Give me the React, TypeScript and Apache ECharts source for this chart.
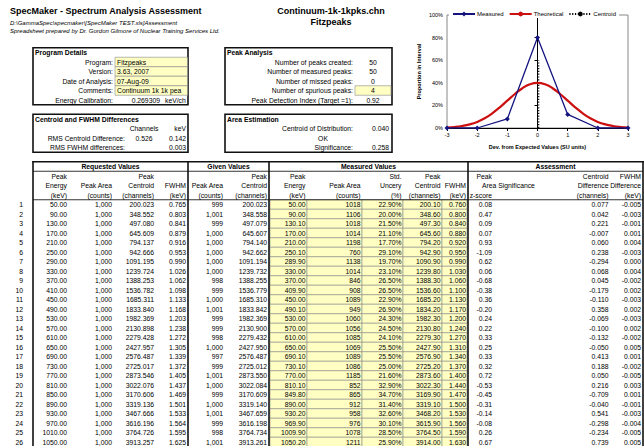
import React, { useEffect, useRef } from "react";
import * as echarts from "echarts";

const FONT = "'Liberation Sans', Arial, sans-serif";

// ---------- chart data ----------
const measuredX = [-3, -2, -1, 0, 1, 2, 3];
const measuredY = [0, 0, 0.08, 0.8, 0.12, 0, 0];
const theoreticalX = [-3, -2.75, -2.5, -2.25, -2, -1.75, -1.5, -1.25, -1, -0.75, -0.5, -0.25, 0, 0.25, 0.5, 0.75, 1, 1.25, 1.5, 1.75, 2, 2.25, 2.5, 2.75, 3];
const theoreticalY = [0.004, 0.009, 0.018, 0.032, 0.054, 0.086, 0.13, 0.183, 0.242, 0.301, 0.352, 0.387, 0.399, 0.387, 0.352, 0.301, 0.242, 0.183, 0.13, 0.086, 0.054, 0.032, 0.018, 0.009, 0.004];
const centroidX = [0.04, 0.04];
const centroidY = [0, 0.6];
const legendNames = ["Measured", "Theoretical", "Centroid"];

// ---------- header texts ----------
const titleText = "SpecMaker - Spectrum Analysis Assessment";
const pathText = "D:\\GammaSpec\\specmaker\\[SpecMaker TEST.xls]Assessment";
const preparedText = "Spreadsheet prepared by Dr. Gordon Gilmore of Nuclear Training Services Ltd.";
const fileText = "Continuum-1k-1kpks.chn";
const programText = "Fitzpeaks";

const programLabels = ["Program:", "Version:", "Date of Analysis:", "Comments:", "Energy Calibration:"];
const programValues = ["Fitzpeaks", "3.63, 2007", "07-Aug-09", "Continuum 1k 1k pea"];
const energyCalibration = "0.269309";
const energyCalibrationUnit = "keV/ch";

const peakLabels = ["Number of peaks created:", "Number of measured peaks:", "Number of missed peaks:", "Number of spurious peaks:", "Peak Detection Index (Target =1):"];
const peakValues = ["50", "50", "0", "4", "0.92"];

const diffLabels = ["RMS Centroid Difference:", "RMS FWHM differences:"];
const diffChannels = ["0.526", ""];
const diffKeV = ["0.142", "0.003"];

const areaLabels = ["Centroid of Distribution:", "", "Significance:"];
const areaValues = ["0.040", "OK", "0.258"];

// ---------- table data ----------
const rowNumbers = [1, 2, 3, 4, 5, 6, 7, 8, 9, 10, 11, 12, 13, 14, 15, 16, 17, 18, 19, 20, 21, 22, 23, 24, 25, 26];
const reqEnergy = [50, 90, 130, 170, 210, 250, 290, 330, 370, 410, 450, 490, 530, 570, 610, 650, 690, 730, 770, 810, 850, 890, 930, 970, 1010, 1050];
const reqArea = [1000, 1000, 1000, 1000, 1000, 1000, 1000, 1000, 1000, 1000, 1000, 1000, 1000, 1000, 1000, 1000, 1000, 1000, 1000, 1000, 1000, 1000, 1000, 1000, 1000, 1000];
const reqCentroid = [200.023, 348.552, 497.08, 645.609, 794.137, 942.666, 1091.195, 1239.724, 1388.253, 1536.782, 1685.311, 1833.84, 1982.369, 2130.898, 2279.428, 2427.957, 2576.487, 2725.017, 2873.546, 3022.076, 3170.606, 3319.136, 3467.666, 3616.196, 3764.726, 3913.257];
const reqFwhm = [0.765, 0.803, 0.841, 0.879, 0.916, 0.953, 0.99, 1.026, 1.062, 1.098, 1.133, 1.168, 1.203, 1.238, 1.272, 1.305, 1.339, 1.372, 1.405, 1.437, 1.469, 1.501, 1.533, 1.564, 1.595, 1.625];
const givenArea = [999, 1001, 999, 1000, 1000, 1000, 1000, 1000, 998, 999, 1000, 1001, 999, 999, 998, 1000, 997, 999, 1001, 1000, 999, 1000, 1001, 999, 998, 1001];
const givenCentroid = [200.023, 348.558, 497.079, 645.607, 794.14, 942.662, 1091.194, 1239.732, 1388.255, 1536.779, 1685.31, 1833.842, 1982.369, 2130.9, 2279.432, 2427.95, 2576.487, 2725.012, 2873.55, 3022.084, 3170.609, 3319.14, 3467.659, 3616.198, 3764.734, 3913.261];
const measEnergy = [50.0, 90.0, 130.1, 170.0, 210.0, 250.1, 289.9, 330.0, 370.0, 409.9, 450.0, 490.1, 530.0, 570.0, 610.0, 650.0, 690.1, 730.1, 770.0, 810.1, 849.8, 890.0, 930.2, 969.9, 1009.9, 1050.2];
const measArea = [1018, 1106, 1018, 1014, 1198, 760, 1138, 1014, 846, 908, 1089, 949, 1060, 1056, 1085, 1069, 1089, 1086, 1185, 852, 865, 912, 958, 976, 1078, 1211];
const measUncert = [22.9, 20.0, 21.5, 21.1, 17.7, 29.1, 19.7, 23.1, 26.5, 26.5, 22.9, 26.9, 24.3, 24.5, 24.1, 25.5, 25.5, 25.0, 21.6, 32.9, 34.7, 31.4, 32.6, 30.1, 28.5, 25.9];
const measCentroid = [200.1, 348.6, 497.3, 645.6, 794.2, 942.9, 1090.9, 1239.8, 1388.3, 1536.6, 1685.2, 1834.2, 1982.3, 2130.8, 2279.3, 2427.9, 2576.9, 2725.2, 2873.6, 3022.3, 3169.9, 3319.1, 3468.2, 3615.9, 3764.5, 3914.0];
const measFwhm = [0.76, 0.8, 0.84, 0.88, 0.92, 0.95, 0.99, 1.03, 1.06, 1.1, 1.13, 1.17, 1.2, 1.24, 1.27, 1.31, 1.34, 1.37, 1.4, 1.44, 1.47, 1.5, 1.53, 1.56, 1.59, 1.63];
const zScore = [0.08, 0.47, 0.09, 0.07, 0.93, -1.09, 0.62, 0.06, -0.68, -0.38, 0.36, -0.2, 0.24, 0.22, 0.33, 0.25, 0.33, 0.32, 0.72, -0.53, -0.45, -0.31, -0.14, -0.08, 0.26, 0.67];
const centroidDiff = [0.077, 0.042, 0.221, -0.007, 0.06, 0.238, -0.294, 0.068, 0.045, -0.179, -0.11, 0.358, -0.069, -0.1, -0.132, -0.05, 0.413, 0.188, 0.05, 0.216, -0.709, -0.04, 0.541, -0.298, -0.234, 0.739];
const fwhmDiff = [-0.005, -0.003, -0.001, 0.001, 0.004, -0.003, 0.0, 0.004, -0.002, 0.002, -0.003, 0.002, -0.003, 0.002, -0.002, 0.005, 0.001, -0.002, -0.005, 0.003, 0.001, -0.001, -0.003, -0.004, -0.005, 0.005];

const groupTitles = ["Requested Values", "Given Values", "Measured Values", "Assessment"];

// ---------- layout ----------
const FS = 6.8;
const rowY = (n: number) => 5 + 9.5 * n;
const dataY = (i: number) => 204.5 + 9.5 * i;
const YELLOW = "#ffffc4";
const CELL_STROKE = "#8a8a8a";

type TOpt = { bold?: boolean; italic?: boolean; size?: number; align?: string; color?: string };
function txt(text: string, x: number, y: number, o: TOpt = {}) {
  const font = `${o.italic ? "italic " : ""}${o.bold ? "bold " : ""}${o.size || FS}px ${FONT}`;
  const align = o.align || "left";
  return {
    type: "text",
    x,
    y,
    z: 30,
    silent: true,
    style: {
      text,
      font,
      fill: o.color || "#000",
      textAlign: align,
      align,
      textVerticalAlign: "middle",
      verticalAlign: "middle",
    },
  };
}
function rect(x: number, y: number, w: number, h: number, fill: string, stroke?: string, lw = 0.6, z = 10) {
  return {
    type: "rect",
    z,
    silent: true,
    shape: { x, y, width: w, height: h },
    style: { fill, stroke: stroke || null, lineWidth: stroke ? lw : 0 },
  };
}
function line(x1: number, y1: number, x2: number, y2: number, lw = 1, color = "#000", z = 20) {
  return {
    type: "line",
    z,
    silent: true,
    shape: { x1, y1, x2, y2 },
    style: { stroke: color, lineWidth: lw },
  };
}

const comma = (n: number) => n.toLocaleString("en-US");

function buildGraphics() {
  const g: any[] = [];
  g.push(txt(titleText, 10, 11, { bold: true, size: 9 }));
  g.push(txt(pathText, 10, 22.5, { italic: true, size: 6 }));
  g.push(txt(preparedText, 10, 30.5, { italic: true, size: 6 }));
  g.push(txt(fileText, 331, 11, { bold: true, size: 9, align: "center" }));
  g.push(txt(programText, 331, 21.5, { bold: true, size: 9, align: "center" }));

  // Program Details box
  g.push(rect(33, 47.75, 155, 57, "#fff", "#111", 1.6, 5));
  g.push(txt("Program Details", 35, rowY(5), { bold: true }));
  programLabels.forEach((l, k) => g.push(txt(l, 113, rowY(6 + k), { align: "right" })));
  programValues.forEach((v, k) => {
    g.push(rect(115, rowY(6 + k) - 4.75, 72.5, 9.5, YELLOW, CELL_STROKE));
    g.push(txt(v, 117, rowY(6 + k)));
  });
  g.push(txt(energyCalibration, 160, rowY(10), { align: "right" }));
  g.push(txt(energyCalibrationUnit, 165, rowY(10)));

  // Peak Analysis box
  g.push(rect(225, 47.75, 167, 57, "#fff", "#111", 1.6, 5));
  g.push(txt("Peak Analysis", 227, rowY(5), { bold: true }));
  peakLabels.forEach((l, k) => g.push(txt(l, 353, rowY(6 + k), { align: "right" })));
  g.push(rect(355, rowY(9) - 4.75, 36, 9.5, YELLOW, CELL_STROKE));
  peakValues.forEach((v, k) => g.push(txt(v, 373, rowY(6 + k), { align: "center" })));

  // Centroid & FWHM differences box
  g.push(rect(33, 114.25, 155, 38, "#fff", "#111", 1.6, 5));
  g.push(txt("Centroid and FWHM Differences", 35, rowY(12), { bold: true }));
  g.push(txt("Channels", 144, rowY(13), { align: "center" }));
  g.push(txt("keV", 186, rowY(13), { align: "right" }));
  diffLabels.forEach((l, k) => {
    g.push(txt(l, 125, rowY(14 + k), { align: "right" }));
    if (diffChannels[k]) g.push(txt(diffChannels[k], 144, rowY(14 + k), { align: "center" }));
    g.push(txt(diffKeV[k], 186, rowY(14 + k), { align: "right" }));
  });

  // Area Estimation box
  g.push(rect(225, 114.25, 167, 38, "#fff", "#111", 1.6, 5));
  g.push(txt("Area Estimation", 227, rowY(12), { bold: true }));
  areaLabels.forEach((l, k) => {
    if (l) g.push(txt(l, 353, rowY(13 + k), { align: "right" }));
    if (k === 1) g.push(txt(areaValues[k], 323, rowY(13 + k), { align: "center" }));
    else g.push(txt(areaValues[k], 389, rowY(13 + k), { align: "right" }));
  });

  // ---- main table ----
  const top = 161.75;
  const bottom = 447;
  const mCols = [270, 307, 362, 403, 442, 467];
  rowNumbers.forEach((_, i) => {
    for (let c = 0; c < 5; c++) {
      g.push(rect(mCols[c], dataY(i) - 4.75, mCols[c + 1] - mCols[c], 9.5, YELLOW, CELL_STROKE, 0.6, 8));
    }
  });
  g.push(line(32.2, top, 643.8, top, 1.6, "#111"));
  g.push(line(33, 171.25, 643, 171.25, 0.8));
  g.push(line(33, 199.75, 643, 199.75, 0.8));
  [33, 188, 269, 468, 643].forEach((x) => g.push(line(x, top - 0.8, x, bottom, 1.6, "#111")));

  const centers = [110.5, 228.5, 368.5, 555.5];
  groupTitles.forEach((t, k) => g.push(txt(t, centers[k], rowY(17), { bold: true, align: "center" })));

  const CD = 608.5;
  const FD = 641;
  const headers: [string[], number][] = [
    [["Peak", "Energy", "(keV)"], 67],
    [["", "Peak Area", "(counts)"], 112],
    [["Peak", "Centroid", "(channels)"], 154],
    [["", "FWHM", "(keV)"], 186],
    [["", "Peak Area", "(counts)"], 223],
    [["Peak", "Centroid", "(channels)"], 267],
    [["Peak", "Energy", "(keV)"], 305.5],
    [["", "Peak Area", "(counts)"], 360.5],
    [["Std.", "Uncery", "(%)"], 401.5],
    [["Peak", "Centroid", "(channels)"], 440.5],
    [["", "FWHM", "(keV)"], 466],
    [["Peak", "", "z-score"], 492],
    [["Centroid", "Difference", "(channels)"], CD],
    [["FWHM", "Difference", "(keV)"], FD],
  ];
  headers.forEach(([lines, x]) => {
    lines.forEach((l, k) => {
      if (l) g.push(txt(l, x, rowY(18 + k), { align: "right" }));
    });
  });
  g.push(txt("Area Significance", 482, rowY(19)));

  rowNumbers.forEach((n, i) => {
    const y = dataY(i);
    g.push(txt(String(n), 23, y, { align: "right" }));
    g.push(txt(reqEnergy[i].toFixed(2), 67, y, { align: "right" }));
    g.push(txt(comma(reqArea[i]), 112, y, { align: "right" }));
    g.push(txt(reqCentroid[i].toFixed(3), 154, y, { align: "right" }));
    g.push(txt(reqFwhm[i].toFixed(3), 186, y, { align: "right" }));
    g.push(txt(comma(givenArea[i]), 223, y, { align: "right" }));
    g.push(txt(givenCentroid[i].toFixed(3), 267, y, { align: "right" }));
    g.push(txt(measEnergy[i].toFixed(2), 305.5, y, { align: "right" }));
    g.push(txt(String(measArea[i]), 360.5, y, { align: "right" }));
    g.push(txt(measUncert[i].toFixed(2) + "%", 401.5, y, { align: "right" }));
    g.push(txt(measCentroid[i].toFixed(2), 440.5, y, { align: "right" }));
    g.push(txt(measFwhm[i].toFixed(3), 466, y, { align: "right" }));
    g.push(txt(zScore[i].toFixed(2), 492, y, { align: "right" }));
    g.push(txt(centroidDiff[i].toFixed(3), CD, y, { align: "right" }));
    g.push(txt(fwhmDiff[i].toFixed(3), FD, y, { align: "right" }));
  });
  return g;
}

export default function App() {
  const ref = useRef<HTMLDivElement>(null);
  useEffect(() => {
    if (!ref.current) return;
    const chart = echarts.init(ref.current, null, { renderer: "svg" });
    const axisFont = { fontFamily: FONT, fontSize: 5.5, color: "#000" };
    chart.setOption({
      animation: false,
      backgroundColor: "#fff",
      textStyle: { fontFamily: FONT },
      grid: {
        left: 447,
        right: 16,
        top: 15,
        bottom: 318,
        show: true,
        borderColor: "#888",
        borderWidth: 1,
        backgroundColor: "#fff",
      },
      legend: {
        data: legendNames,
        left: 449,
        top: 10,
        itemWidth: 22,
        itemHeight: 6,
        itemGap: 5,
        padding: [1, 3],
        backgroundColor: "#fff",
        textStyle: { fontFamily: FONT, fontSize: 6, color: "#000", padding: [0, 0, 0, -3] },
        z: 10,
      },
      xAxis: {
        type: "value",
        min: -3,
        max: 3,
        interval: 1,
        axisLine: { show: true, onZero: false, lineStyle: { color: "#000", width: 1 } },
        axisTick: { show: true, length: 3, lineStyle: { color: "#000" } },
        axisLabel: { ...axisFont, margin: 4 },
        splitLine: { show: false },
        name: "Dev. from Expected Values (SU units)",
        nameLocation: "middle",
        nameGap: 16,
        nameTextStyle: { fontFamily: FONT, fontSize: 5.5, fontWeight: "bold", color: "#000" },
      },
      yAxis: {
        type: "value",
        min: 0,
        max: 1,
        interval: 0.2,
        axisLine: { show: true, lineStyle: { color: "#000", width: 1 } },
        axisTick: { show: true, length: 3, lineStyle: { color: "#000" } },
        axisLabel: { ...axisFont, margin: 4, formatter: (v: number) => Math.round(v * 100) + "%" },
        splitLine: { show: false },
        name: "Proportion in Interval",
        nameLocation: "middle",
        nameGap: 25,
        nameRotate: 90,
        nameTextStyle: { fontFamily: FONT, fontSize: 5.5, fontWeight: "bold", color: "#000" },
      },
      series: [
        {
          name: "Measured",
          type: "line",
          data: measuredX.map((x, i) => [x, measuredY[i]]),
          symbol: "diamond",
          symbolSize: 5,
          lineStyle: { color: "#141480", width: 1.3 },
          itemStyle: { color: "#141480" },
          z: 4,
        },
        {
          name: "Theoretical",
          type: "line",
          data: theoreticalX.map((x, i) => [x, theoreticalY[i]]),
          smooth: true,
          symbol: "none",
          lineStyle: { color: "#cc1010", width: 2.2 },
          itemStyle: { color: "#cc1010" },
          z: 3,
        },
        {
          name: "Centroid",
          type: "line",
          data: centroidX.map((x, i) => [x, centroidY[i]]),
          symbol: "none",
          lineStyle: { color: "#000", width: 1.2, type: [1.2, 1.6] },
          itemStyle: { color: "#000" },
          z: 2,
        },
      ],
      graphic: { elements: buildGraphics() },
    });
    return () => chart.dispose();
  }, []);
  return (
    <div
      ref={ref}
      style={{ position: "fixed", left: 0, top: 0, width: 644, height: 446, background: "#fff" }}
    />
  );
}
